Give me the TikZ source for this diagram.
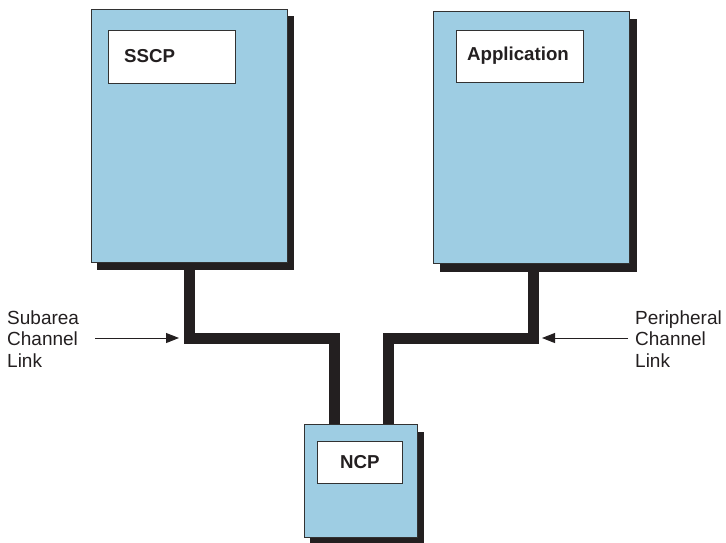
\documentclass[tikz,border=0pt]{standalone}
\usepackage{fontspec}
\setmainfont{Liberation Sans}
\usetikzlibrary{arrows.meta,calc,backgrounds}
\definecolor{boxblue}{RGB}{158,205,227}
\definecolor{shadowc}{RGB}{35,31,32}
\definecolor{edgec}{RGB}{50,50,50}
\begin{document}
\begin{tikzpicture}[x=1pt,y=-1pt,
  bigbox/.style={draw=edgec,line width=0.9pt,fill=boxblue,rectangle,inner sep=0pt,anchor=north west},
  labelbox/.style={draw=edgec,line width=0.9pt,fill=white,rectangle,inner sep=0pt,anchor=north west},
  boxtext/.style={font=\fontsize{18.7}{21}\selectfont\bfseries,text=shadowc,inner sep=0pt},
  sidetext/.style={font=\fontsize{19}{21.5}\selectfont,text=shadowc,align=left,inner sep=0pt,anchor=west},
  link/.style={draw=shadowc,line width=11pt,line join=miter},
  pointer/.style={draw=shadowc,line width=1pt,-{Triangle[length=13pt,width=10pt]}}]
\useasboundingbox (0,0) rectangle (726,542);
% boxes
\node[bigbox,minimum width=196pt,minimum height=253pt] (sscpbox) at (91,9) {};
\node[bigbox,minimum width=196pt,minimum height=252pt] (appbox) at (433,11) {};
\node[bigbox,minimum width=113pt,minimum height=113pt] (ncpbox) at (304,424) {};
% inner label boxes
\node[labelbox,minimum width=127pt,minimum height=53pt] (sscplab) at (108,30) {};
\node[labelbox,minimum width=127pt,minimum height=52pt] (applab) at (456,30) {};
\node[labelbox,minimum width=85pt,minimum height=42pt] (ncplab) at (317,441) {};
\node[boxtext,anchor=west] (sscptxt) at (124,56.5) {SSCP};
\node[boxtext] (apptxt) at (518,56) {Application};
\node[boxtext] (ncptxt) at (ncplab.center) {NCP};
% shadows and links behind the boxes
\coordinate (ljoin) at (334.5,338.5);
\coordinate (rjoin) at (388.5,338.5);
\begin{scope}[on background layer]
\fill[shadowc] ([shift={(6pt,-7pt)}]sscpbox.south west) rectangle ([shift={(6pt,-7pt)}]sscpbox.north east);
\fill[shadowc] ([shift={(7pt,-8pt)}]appbox.south west) rectangle ([shift={(7pt,-8pt)}]appbox.north east);
\fill[shadowc] ([shift={(6pt,-8pt)}]ncpbox.south west) rectangle ([shift={(6pt,-8pt)}]ncpbox.north east);
\draw[link] (sscpbox.south) |- (ljoin) -- (ljoin |- ncpbox.north);
\draw[link] ([xshift=2.5pt]appbox.south) |- (rjoin) -- (rjoin |- ncpbox.north);
\end{scope}
% side labels and pointers
\node[sidetext] (subtxt) at (7,339) {Subarea\\Channel\\Link};
\node[sidetext] (pertxt) at (635,339) {Peripheral\\Channel\\Link};
\coordinate (lstart) at (95,338);
\coordinate (ltip) at (179,338);
\coordinate (rstart) at (628,338);
\coordinate (rtip) at (542,338);
\draw[pointer] (lstart) -- (ltip);
\draw[pointer] (rstart) -- (rtip);
\end{tikzpicture}
\end{document}
